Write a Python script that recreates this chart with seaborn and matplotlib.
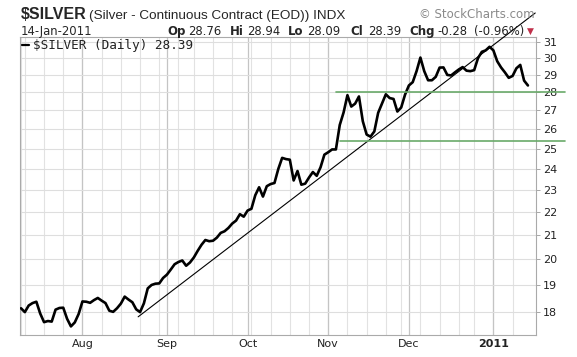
import numpy as np
import pandas as pd
import matplotlib
matplotlib.use("Agg")
import matplotlib.pyplot as plt
from matplotlib.lines import Line2D
import seaborn as sns

# Daily closes of $SILVER (Jul 9 2010 .. Jan 14 2011)
prices = [
    18.13, 17.99, 18.23, 18.32, 18.37, 17.94, 17.63, 17.67, 17.65, 18.08,
    18.14, 18.15, 17.75, 17.48, 17.62, 17.92, 18.38, 18.37, 18.33, 18.43,
    18.51, 18.41, 18.32, 18.04, 18.00, 18.13, 18.30, 18.56, 18.45, 18.35,
    18.09, 17.99, 18.31, 18.87, 19.00, 19.05, 19.06, 19.27, 19.40, 19.60,
    19.81, 19.90, 19.96, 19.75, 19.88, 20.08, 20.35, 20.60, 20.80, 20.75,
    20.77, 20.90, 21.10, 21.17, 21.31, 21.50, 21.63, 21.91, 21.80, 22.07,
    22.15, 22.76, 23.13, 22.70, 23.18, 23.28, 23.33, 24.00, 24.54, 24.48,
    24.45, 23.45, 23.90, 23.25, 23.30, 23.59, 23.85, 23.67, 24.08, 24.70,
    24.82, 24.96, 24.96, 26.22, 26.89, 27.84, 27.21, 27.37, 27.77, 26.42,
    25.72, 25.61, 25.88, 26.87, 27.37, 27.89, 27.68, 27.63, 26.94, 27.16,
    27.87, 28.39, 28.58, 29.22, 30.03, 29.22, 28.69, 28.69, 28.89, 29.43,
    29.44, 29.00, 28.97, 29.15, 29.32, 29.46, 29.25, 29.22, 29.28, 30.00,
    30.38, 30.47, 30.69, 30.47, 29.81, 29.44, 29.15, 28.83, 28.94, 29.39,
    29.59, 28.67, 28.39,
]
holidays = ["2010-09-06", "2010-11-25", "2010-12-24"]
y_ticks = [18, 19, 20, 21, 22, 23, 24, 25, 26, 27, 28, 29, 30, 31]
month_labels = ["Aug", "Sep", "Oct", "Nov", "Dec", "2011"]

# trend line (day index, price) and horizontal support/resistance levels
trend_x = [30.5, 133.9]
trend_y = [17.82, 32.85]
level_y = [28.0, 25.4]
level_start = [82, 83]
level_end = 141.7

# quote line of the header
quote_labels = ["Op", "Hi", "Lo", "Cl", "Chg"]
quote_values = ["28.76", "28.94", "28.09", "28.39", "-0.28", "(-0.96%)"]

dates = pd.bdate_range("2010-07-09", "2011-01-14")
dates = dates[~dates.isin(pd.to_datetime(holidays))]
df = pd.DataFrame({"date": dates, "close": prices})
df["i"] = np.arange(len(df))

sns.set_style("white")
plt.rcParams["font.family"] = ["DejaVu Sans"]

W, H = 577, 357
fig = plt.figure(figsize=(W / 100, H / 100), dpi=100)
ax = fig.add_axes([20 / W, 22 / H, (536 - 20) / W, (335 - 37) / H])

# grid: weekly light lines, month lines a bit darker
week_start = df.index[df["date"].dt.to_period("W") != df["date"].shift().dt.to_period("W")]
month_start = df.index[df["date"].dt.month != df["date"].shift().dt.month][1:]
for w in week_start:
    ax.axvline(w, color="#e2e2e2", lw=0.8, zorder=0)
for m in month_start:
    ax.axvline(m, color="#c4c4c4", lw=0.9, zorder=0)
for t in y_ticks:
    ax.axhline(t, color="#dedede", lw=0.8, zorder=0)

sns.lineplot(data=df, x="i", y="close", ax=ax, color="black", lw=1.9, zorder=3)

ax.plot(trend_x, trend_y, color="black", lw=0.8, clip_on=False, zorder=4)
for lv, x0 in zip(level_y, level_start):
    ax.plot([x0, level_end], [lv, lv], color="#6aaa6a", lw=1.2, clip_on=False, zorder=4)

ax.set_yscale("log")
ax.set_xlim(-0.26, 134.1)
ax.set_ylim(17.18, 31.3)
ax.yaxis.tick_right()
ax.set_yticks(y_ticks)
ax.set_yticklabels([str(t) for t in y_ticks])
ax.yaxis.set_minor_locator(matplotlib.ticker.NullLocator())
ax.tick_params(axis="y", right=True, length=3, width=0.6, color="#999999",
               labelsize=8, labelcolor="#222222", pad=2)
ax.set_xticks(list(month_start))
ax.set_xticklabels(month_labels)
ax.tick_params(axis="x", length=0, labelsize=8, labelcolor="#222222", pad=3)
ax.get_xticklabels()[-1].set_fontweight("bold")
ax.set_xlabel("")
ax.set_ylabel("")
for s in ax.spines.values():
    s.set_color("#aaaaaa")
    s.set_linewidth(0.8)

# header
renderer = fig.canvas.get_renderer()


def px_text(x, y, s, **kw):
    return fig.text(x / W, 1 - y / H, s, va="baseline", ha="left", **kw)


t = px_text(21, 19, "$SILVER", family="Liberation Sans", weight="bold", size=11.5)
px_text(t.get_window_extent(renderer).x1 + 2, 19,
        "(Silver - Continuous Contract (EOD)) INDX", family="Liberation Sans", size=9.7)
fig.text(535 / W, 1 - 18 / H, "\u00a9 StockCharts.com", ha="right", va="baseline",
         size=8.5, color="#8a8a8a")
px_text(21, 35, "14-Jan-2011", size=8.4)

lab_x = [167, 230, 288, 350, 409]
val_x = [188, 247, 307, 368, 437, 474]
for x, s in zip(lab_x, quote_labels):
    px_text(x, 35, s, weight="bold", size=8.5)
for x, s in zip(val_x, quote_values):
    px_text(x, 35, s, size=8.4, color="#222222")
px_text(527, 34, "\u25bc", size=6.5, color="#c0304a")

fig.add_artist(Line2D([22 / W, 29 / W], [1 - 45 / H] * 2, transform=fig.transFigure,
                      color="black", lw=1.6))
px_text(33, 49, "$SILVER (Daily) 28.39", family="DejaVu Sans Mono", size=9.1,
        color="#222222")

fig.savefig("out.png", dpi=100)
